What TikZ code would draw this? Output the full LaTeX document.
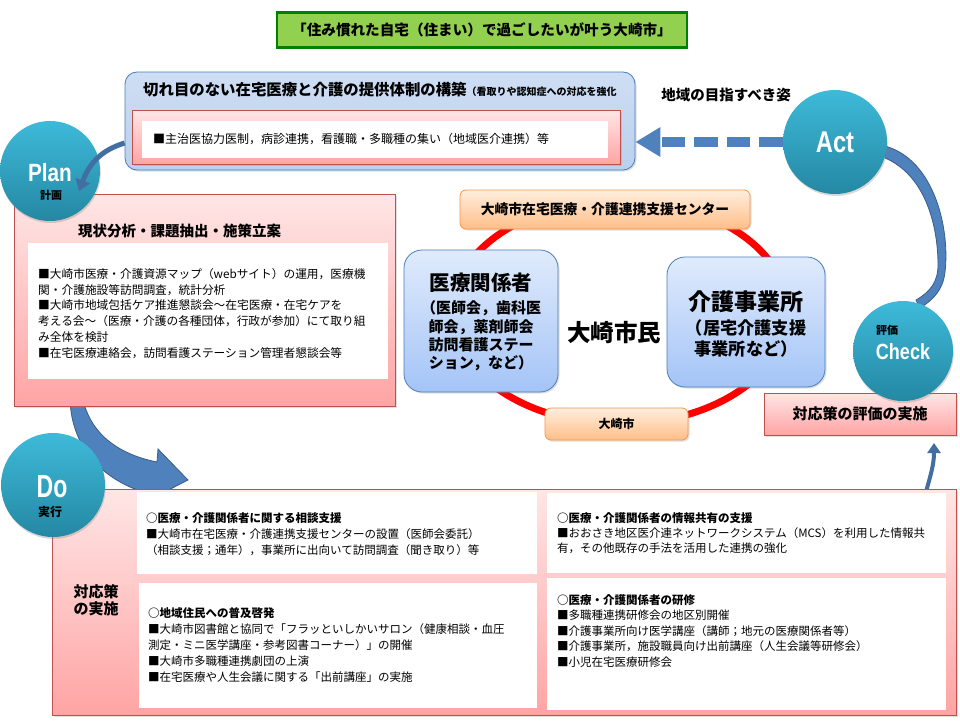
\documentclass[tikz,border=0pt]{standalone}
\usepackage{fontspec}
\usepackage{graphicx}
\setmainfont{Noto Sans CJK JP}
\newfontfamily\pdcafont{Liberation Sans}
\usetikzlibrary{arrows.meta,shadows,shapes.geometric}
\definecolor{cirtop}{RGB}{62,186,217}
\definecolor{cirbot}{RGB}{36,136,163}
\definecolor{pinktop}{RGB}{255,230,230}
\definecolor{pinkbot}{RGB}{255,164,164}
\definecolor{pinkline}{RGB}{192,80,77}
\definecolor{oratop}{RGB}{255,238,222}
\definecolor{orabot}{RGB}{255,190,136}
\definecolor{oraline}{RGB}{247,150,70}
\definecolor{bluetop}{RGB}{224,235,252}
\definecolor{bluebot}{RGB}{164,196,247}
\definecolor{blueline}{RGB}{74,126,187}
\definecolor{topA}{RGB}{206,222,244}
\definecolor{topB}{RGB}{186,208,237}
\definecolor{arrowfill}{RGB}{79,129,189}
\definecolor{arrowline}{RGB}{56,93,138}
\definecolor{titlegreen}{RGB}{146,208,80}
\definecolor{titleline}{RGB}{0,128,0}
\newcommand\pdcaword[3]{\scalebox{#1}[1]{\fontsize{#2}{#2}\selectfont\pdcafont\bfseries #3}}
\begin{document}
\begin{tikzpicture}[x=1pt,y=-1pt,
  shadowed/.style={drop shadow={shadow xshift=1.5pt,shadow yshift=-1.5pt,opacity=0.25}},
  pinkbox/.style={draw=pinkline, line width=0.8pt, top color=pinktop, bottom color=pinkbot, inner sep=0pt, shadowed},
  whitebox/.style={fill=white, draw=none, inner sep=0pt},
  orabox/.style={draw=oraline, line width=0.8pt, top color=oratop, bottom color=orabot, rounded corners=6pt, inner sep=0pt, shadowed},
  bluebox/.style={draw=blueline, line width=0.8pt, top color=bluetop, bottom color=bluebot, rounded corners=18pt, inner sep=0pt, shadowed},
  pdcacircle/.style={circle, inner sep=0pt, minimum size=#1, top color=cirtop, bottom color=cirbot, drop shadow={shadow xshift=0.8pt,shadow yshift=-2pt,opacity=0.3}},
  plain/.style={inner sep=0pt},
  bodytxt/.style={inner sep=0pt, anchor=north west, align=left},
  whiteword/.style={inner sep=0pt, text=white},
  bigarrow/.style={draw=arrowline, fill=arrowfill, line width=0.8pt}
]
\useasboundingbox (0,0) rectangle (960,720);
\fill[white] (0,0) rectangle (960,720);

% title
\node[draw=titleline, line width=2.5pt, fill=titlegreen, minimum width=410pt, minimum height=35pt, plain, font=\fontsize{14.6}{16}\selectfont\bfseries] (title) at (482,30) {「住み慣れた自宅（住まい）で過ごしたいが叶う大崎市」};

% Act -> Check curved arrow (behind circles)
\path[bigarrow] (885,146) .. controls (935,160) and (950,230) .. (945,272) .. controls (943,290) and (933,300) .. (920,308) -- (916,300) .. controls (930,292) and (938,282) .. (938,265) .. controls (938,225) and (925,175) .. (885,158) -- cycle;

% top box
\node[draw=blueline, line width=0.8pt, top color=topA, bottom color=topB, rounded corners=12pt, minimum width=510pt, minimum height=98pt, plain, shadowed] (topbox) at (380,121) {};
\node[pinkbox, minimum width=488pt, minimum height=54pt] (toppink) at (376,137) {};
\node[whitebox, minimum width=466pt, minimum height=37pt] (topwhite) at (375,139.5) {};
\node[plain, anchor=west, font=\fontsize{15.4}{18}\selectfont\bfseries] (toptitle) at (143,90) {切れ目のない在宅医療と介護の提供体制の構築{\fontsize{10}{12}\selectfont （看取りや認知症への対応を強化}};
\node[plain, anchor=west, font=\fontsize{12}{14}\selectfont] (toptxt) at (153,139) {■主治医協力医制，病診連携，看護職・多職種の集い（地域医介連携）等};

\node[plain, font=\fontsize{14.5}{16}\selectfont\bfseries] (goal) at (726,95) {地域の目指すべき姿};

% Plan -> Do big arrow (behind Plan box and Do box)
\path[bigarrow] (70,400) .. controls (72,450) and (105,482) .. (150,494) -- (149,500) -- (188,480) -- (158,449) -- (157,462) .. controls (122,455) and (92,437) .. (83,400) -- cycle;

% Plan box
\node[pinkbox, minimum width=381pt, minimum height=212pt] (planbox) at (204.5,300) {};
\node[whitebox, minimum width=360pt, minimum height=136pt] (planwhite) at (208,311) {};
\node[plain, anchor=west, font=\fontsize{14.5}{16}\selectfont\bfseries] (planhead) at (78,231) {現状分析・課題抽出・施策立案};
\node[bodytxt, font=\fontsize{11.7}{15.8}\selectfont] (plantxt) at (38,268) {■大崎市医療・介護資源マップ（webサイト）の運用，医療機\\関・介護施設等訪問調査，統計分析\\■大崎市地域包括ケア推進懇談会～在宅医療・在宅ケアを\\考える会～（医療・介護の各種団体，行政が参加）にて取り組\\み全体を検討\\■在宅医療連絡会，訪問看護ステーション管理者懇談会等};

% Plan circle
\node[pdcacircle=100pt] (plan) at (50,171) {};
\node[whiteword] (planword) at (50,173) {\pdcaword{0.83}{25}{Plan}};
\node[plain, font=\fontsize{11}{12}\selectfont\bfseries] (plansub) at (51,195) {計画};

% Plan arrow (from top box into Plan circle)
\draw[arrowfill!85!black, line width=5pt, -{Triangle[width=15pt,length=11pt]}] (topbox.west |- 130,143) coordinate (pa) .. controls (102,150) and (90,162) .. (79,191) coordinate (pb);

% center ring
\node[ellipse, draw=red, line width=7pt, minimum width=336pt, minimum height=224pt, inner sep=0pt] (ring) at (620,312) {};
\node[orabox, minimum width=290pt, minimum height=39pt, font=\fontsize{13.8}{16}\selectfont\bfseries] (center) at (605,209.5) {大崎市在宅医療・介護連携支援センター};
\node[orabox, minimum width=143pt, minimum height=32pt, font=\fontsize{12}{14}\selectfont\bfseries] (city) at (616.5,424) {大崎市};
\node[bluebox, minimum width=154pt, minimum height=142pt] (iryo) at (481,321) {};
\node[plain, font=\fontsize{20.5}{24}\selectfont\bfseries] (iryohead) at (481,283) {医療関係者};
\node[plain, align=center, font=\fontsize{15}{18.3}\selectfont\bfseries] (iryosub) at (481,336) {（医師会，歯科医\\師会，薬剤師会\\訪問看護ステー\\ション，など）};
\node[bluebox, minimum width=158pt, minimum height=130pt] (kaigo) at (746,322) {};
\node[plain, font=\fontsize{23}{26}\selectfont\bfseries] (kaigohead) at (746,302) {介護事業所};
\node[plain, align=center, font=\fontsize{17.2}{21}\selectfont\bfseries] (kaigosub) at (746,338) {（居宅介護支援\\事業所など）};
\node[plain, font=\fontsize{23.5}{26}\selectfont\bfseries] (citizen) at (614,333) {大崎市民};

% evaluation box
\node[pinkbox, minimum width=192pt, minimum height=42pt, font=\fontsize{15}{17}\selectfont\bfseries] (evalbox) at (860,414) {対応策の評価の実施};

% small arrow Do box -> evaluation box
\coordinate (smallS) at (925,496);
\draw[arrowfill!85!black, line width=4pt, -{Triangle[width=13pt,length=10pt]}] (smallS) .. controls (930,476) and (934,466) .. (934,443) coordinate (smallE);

% Do box
\node[pinkbox, minimum width=904pt, minimum height=226pt] (dobox) at (504,602) {};
\node[whitebox, minimum width=400pt, minimum height=82pt] (w1) at (337,533) {};
\node[whitebox, minimum width=399pt, minimum height=80pt] (w2) at (746.5,533) {};
\node[whitebox, minimum width=398pt, minimum height=125pt] (w3) at (338,645.5) {};
\node[whitebox, minimum width=399pt, minimum height=132pt] (w4) at (746.5,644) {};
\node[plain, align=center, font=\fontsize{15}{17}\selectfont\bfseries] (dolabel) at (96,600) {対応策\\の実施};
\node[bodytxt, font=\fontsize{11.5}{16}\selectfont] (t1) at (146,512) {{\bfseries ○医療・介護関係者に関する相談支援}\\■大崎市在宅医療・介護連携支援センターの設置（医師会委託）\\（相談支援；通年），事業所に出向いて訪問調査（聞き取り）等};
\node[bodytxt, font=\fontsize{11.5}{15.2}\selectfont] (t2) at (557,512) {{\bfseries ○医療・介護関係者の情報共有の支援}\\■おおさき地区医介連ネットワークシステム（MCS）を利用した情報共\\有，その他既存の手法を活用した連携の強化};
\node[bodytxt, font=\fontsize{11.5}{16.2}\selectfont] (t3) at (148,607) {{\bfseries ○地域住民への普及啓発}\\■大崎市図書館と協同で「フラッといしかいサロン（健康相談・血圧\\測定・ミニ医学講座・参考図書コーナー）」の開催\\■大崎市多職種連携劇団の上演\\■在宅医療や人生会議に関する「出前講座」の実施};
\node[bodytxt, font=\fontsize{11.5}{15.5}\selectfont] (t4) at (557,594) {{\bfseries ○医療・介護関係者の研修}\\■多職種連携研修会の地区別開催\\■介護事業所向け医学講座（講師；地元の医療関係者等）\\■介護事業所，施設職員向け出前講座（人生会議等研修会）\\■小児在宅医療研修会};

% circles
\node[pdcacircle=104pt] (act) at (835,142) {};
\node[whiteword] (actword) at (835,142) {\pdcaword{0.79}{30}{Act}};
\node[pdcacircle=100pt] (check) at (903,351) {};
\node[plain, font=\fontsize{11}{12}\selectfont\bfseries] (checksub) at (887,330) {評価};
\node[whiteword] (checkword) at (903,352) {\pdcaword{0.82}{22}{Check}};
\node[pdcacircle=104pt] (do) at (53,485) {};
\node[whiteword] (doword) at (52,487) {\pdcaword{0.72}{32}{Do}};
\node[plain, font=\fontsize{12}{13}\selectfont\bfseries] (dosub) at (50,512) {実行};

% dashed arrow Act -> top box
\draw[arrowfill, line width=10pt, dash pattern=on 23.5pt off 9pt, -{Triangle[width=28pt,length=25pt]}] (act.west) -- (act.west -| topbox.east);
\end{tikzpicture}
\end{document}
